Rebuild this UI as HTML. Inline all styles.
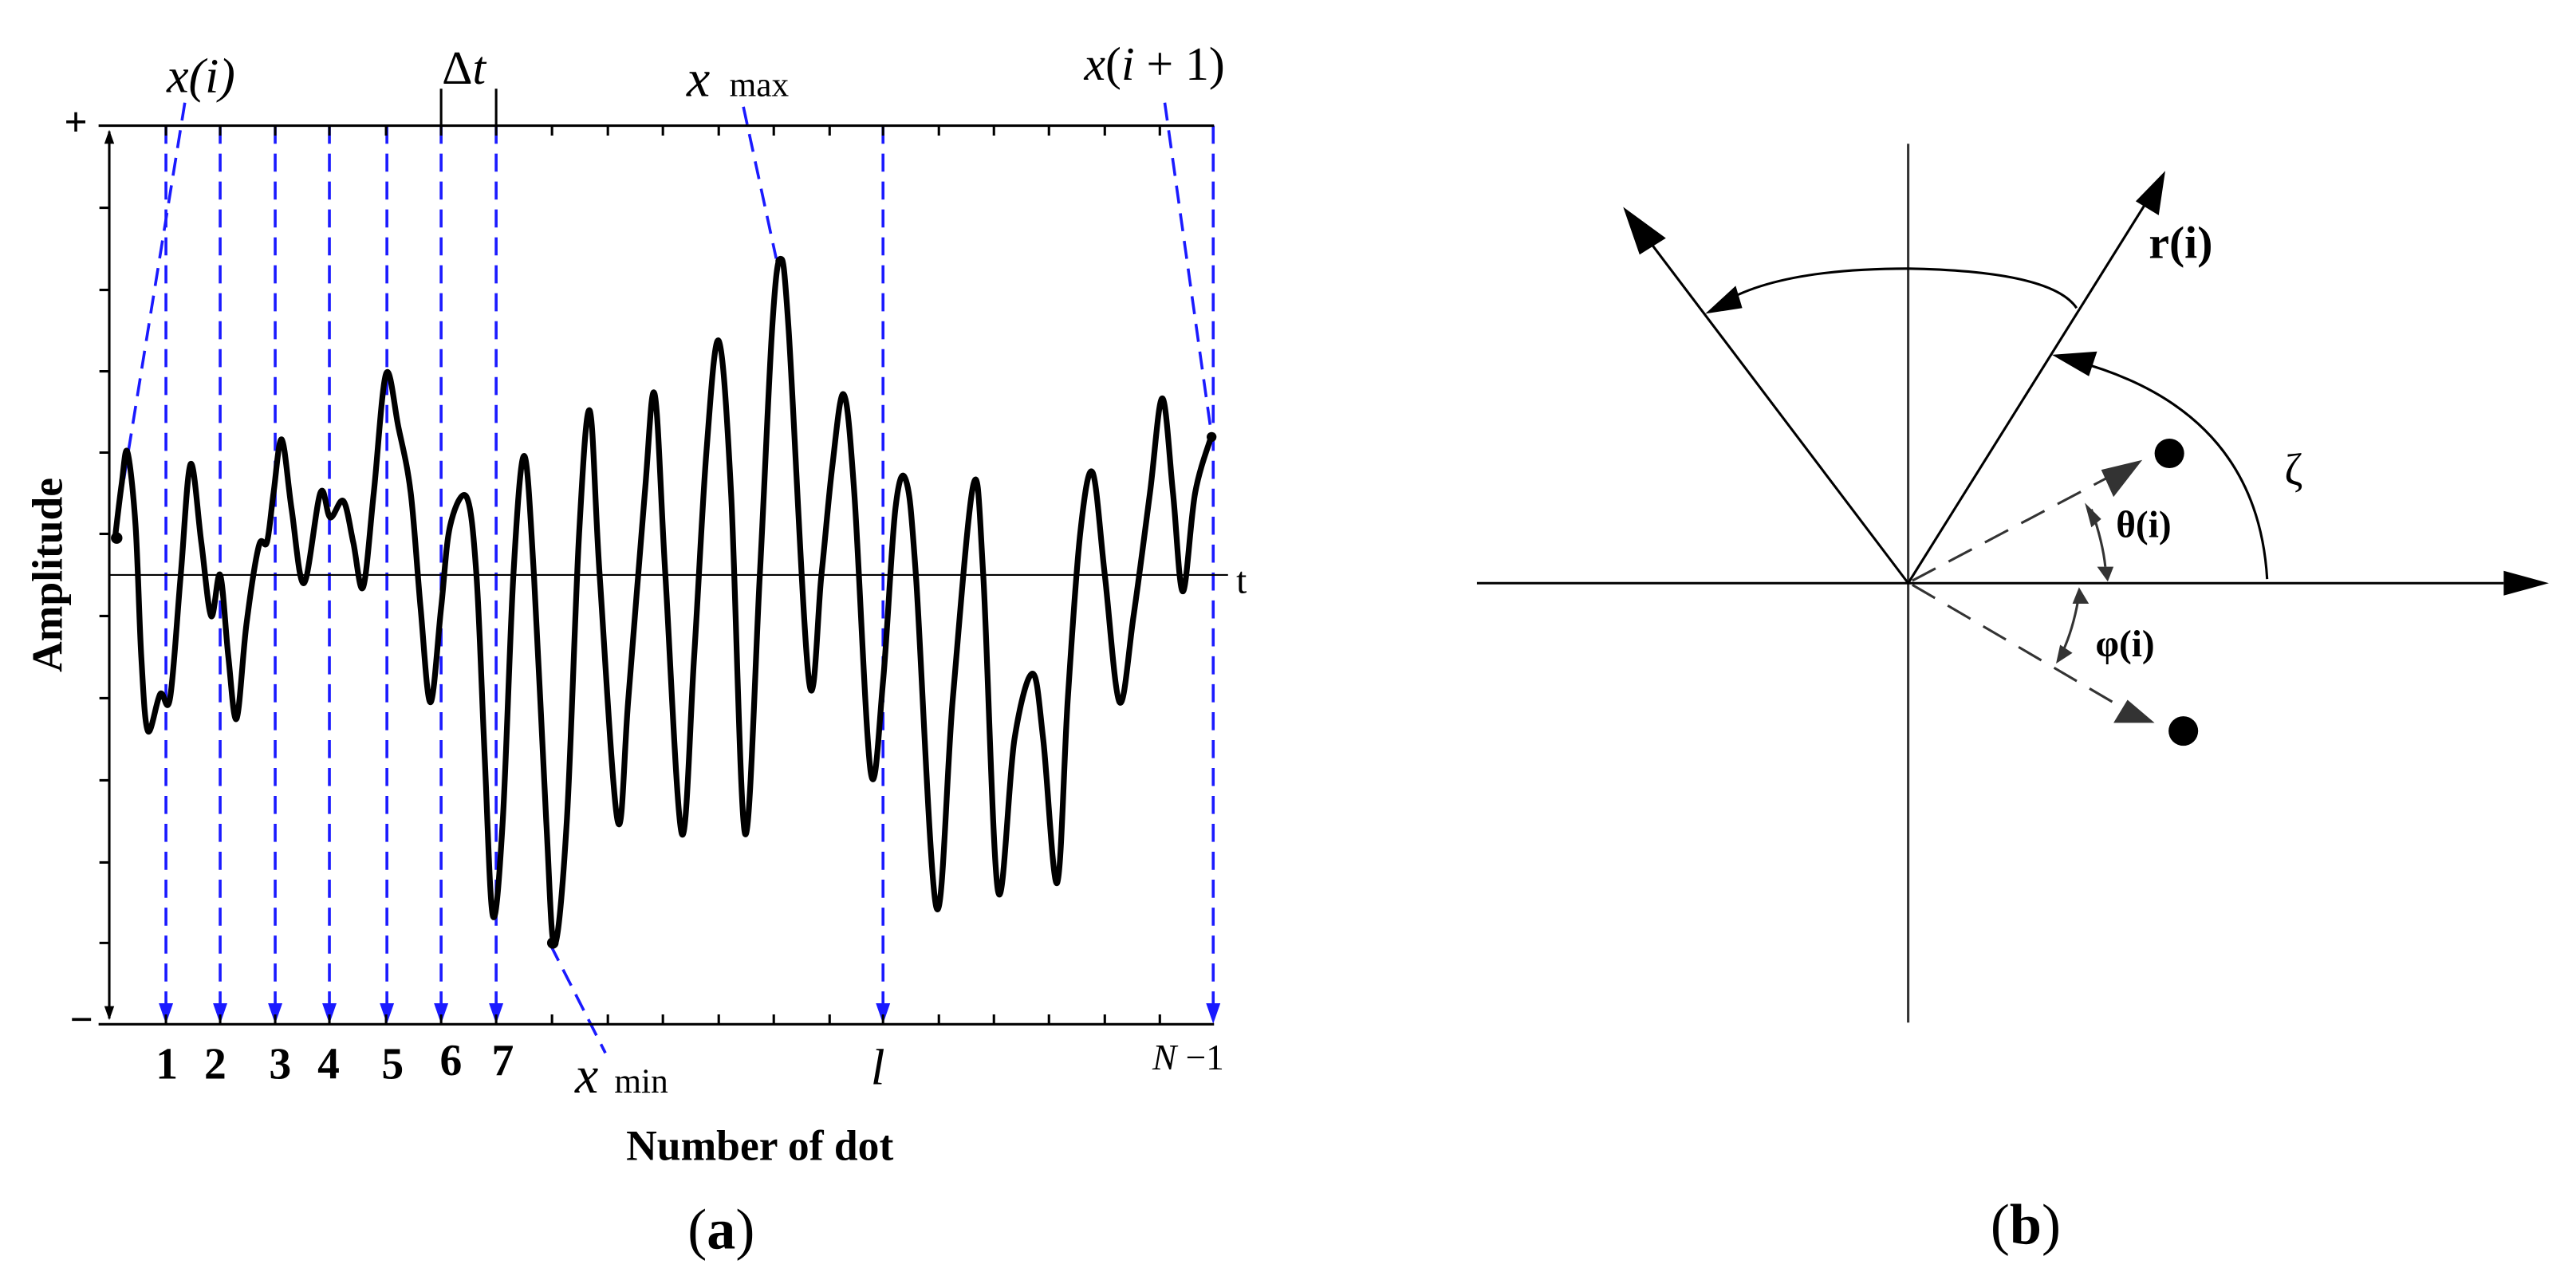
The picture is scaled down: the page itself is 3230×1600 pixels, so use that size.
<!DOCTYPE html>
<html><head><meta charset="utf-8">
<style>
html,body{margin:0;padding:0;background:#fff;}
body{width:3230px;height:1600px;position:relative;overflow:hidden;}
svg{position:absolute;top:0;}
.s{font-family:"Liberation Serif","DejaVu Serif",serif;}
</style></head><body>
<svg style="left:0" width="1615" height="1600" viewBox="0 0 1568 1553.5">
<defs>
<marker id="ba" markerWidth="10" markerHeight="10" refX="9" refY="5" orient="auto" markerUnits="userSpaceOnUse" viewBox="0 0 10 10"><path d="M0,0 L10,5 L0,10 z" fill="#1a1aff"/></marker>
</defs>
<g stroke="#1a1aff" stroke-width="3.5" stroke-dasharray="22,12" fill="none">
<line x1="202" y1="153" x2="202" y2="1222"/>
<line x1="268" y1="153" x2="268" y2="1222"/>
<line x1="335" y1="153" x2="335" y2="1222"/>
<line x1="401" y1="153" x2="401" y2="1222"/>
<line x1="471" y1="153" x2="471" y2="1222"/>
<line x1="537" y1="153" x2="537" y2="1222"/>
<line x1="604" y1="153" x2="604" y2="1222"/>
<line x1="1075" y1="153" x2="1075" y2="1222"/>
<line x1="1477" y1="153" x2="1477" y2="1222"/>
<line x1="225" y1="125" x2="140" y2="650"/>
<line x1="905" y1="130" x2="945" y2="315"/>
<line x1="1418" y1="125" x2="1475" y2="530"/>
<line x1="670" y1="1150" x2="737" y2="1282"/>
</g>
<g stroke="#1a1aff" fill="#1a1aff">
<path d="M194,1222 L210,1222 L202,1245 z"/><path d="M260,1222 L276,1222 L268,1245 z"/><path d="M327,1222 L343,1222 L335,1245 z"/><path d="M393,1222 L409,1222 L401,1245 z"/><path d="M463,1222 L479,1222 L471,1245 z"/><path d="M529,1222 L545,1222 L537,1245 z"/><path d="M596,1222 L612,1222 L604,1245 z"/><path d="M1067,1222 L1083,1222 L1075,1245 z"/><path d="M1469,1222 L1485,1222 L1477,1245 z"/>
</g>
<g stroke="#000" stroke-width="3" fill="none">
<line x1="120" y1="153" x2="1478" y2="153"/>
<line x1="120" y1="1247" x2="1478" y2="1247"/>
<line x1="133" y1="160" x2="133" y2="1240"/>
<line x1="133" y1="700" x2="1495" y2="700" stroke-width="2"/>
<line x1="537" y1="108" x2="537" y2="153"/><line x1="604" y1="108" x2="604" y2="153"/>
<path d="M202,153v12M268,153v12M335,153v12M401,153v12M470,153v12M537,153v12M604,153v12M672,153v12M740,153v12M807,153v12M875,153v12M942,153v12M1010,153v12M1075,153v12M1143,153v12M1210,153v12M1277,153v12M1345,153v12M1412,153v12"/>
<path d="M202,1247v-12M268,1247v-12M335,1247v-12M401,1247v-12M470,1247v-12M537,1247v-12M604,1247v-12M672,1247v-12M740,1247v-12M807,1247v-12M875,1247v-12M942,1247v-12M1010,1247v-12M1075,1247v-12M1143,1247v-12M1210,1247v-12M1277,1247v-12M1345,1247v-12M1412,1247v-12"/>
<path d="M133,253h-12M133,353h-12M133,452h-12M133,551h-12M133,650h-12M133,750h-12M133,850h-12M133,950h-12M133,1050h-12M133,1148h-12"/>
</g>
<path d="M127,175 L133,158 L139,175 z M127,1225 L133,1242 L139,1225 z" fill="#000"/>
<polyline id="wave" fill="none" stroke="#000" stroke-width="7" stroke-linejoin="round" stroke-linecap="round" points="140,655 148,590 155,550 165,640 172,800 180,890 195,845 207,850 220,700 232,565 245,660 257,750 268,700 278,800 288,875 300,760 315,665 325,660 333,600 343,535 355,620 370,710 390,600 402,630 418,610 430,660 442,715 455,600 470,455 485,520 500,600 512,740 524,855 537,740 548,640 568,605 580,700 590,920 600,1115 612,1000 625,700 638,555 650,700 665,1000 675,1150 690,1000 705,650 718,500 730,700 752,1000 765,850 785,600 797,480 810,700 830,1015 845,800 860,550 875,415 890,600 907,1015 925,700 940,400 950,315 960,400 985,830 1000,700 1013,570 1027,480 1040,600 1060,940 1075,830 1090,620 1103,585 1115,700 1140,1105 1160,850 1185,590 1197,700 1215,1085 1235,900 1257,820 1270,900 1287,1075 1300,850 1315,650 1330,575 1345,700 1363,855 1380,750 1400,600 1415,485 1428,600 1440,720 1455,600 1475,530"/>
<path id="wavep" fill="none" stroke="#000" stroke-width="7" stroke-linejoin="round" stroke-linecap="round" d=""/>
<circle cx="142" cy="655" r="7"/><circle cx="950" cy="318" r="6"/><circle cx="673" cy="1148" r="7"/><circle cx="1475" cy="532" r="6"/>
<g class="s" fill="#000">
<text x="203" y="112" font-size="60" font-style="italic">x(i)</text>
<text x="538" y="102" font-size="58">Δ<tspan font-style="italic">t</tspan></text>
<text x="836" y="117" font-size="64" font-style="italic">x</text><text x="888" y="117" font-size="42">max</text>
<text x="1320" y="97" font-size="58"><tspan font-style="italic">x</tspan>(<tspan font-style="italic">i</tspan> + 1)</text>
<text x="78" y="165" font-size="50" font-weight="bold">+</text>
<text x="85" y="1258" font-size="50" font-weight="bold">−</text>
<text x="1505" y="722" font-size="46">t</text>
<g font-size="54" font-weight="bold" text-anchor="middle">
<text x="203" y="1313">1</text><text x="262" y="1313">2</text><text x="341" y="1313">3</text><text x="400" y="1313">4</text><text x="478" y="1313">5</text><text x="549" y="1309">6</text><text x="612" y="1309">7</text>
</g>
<text x="700" y="1330" font-size="64" font-style="italic">x</text><text x="748" y="1330" font-size="42">min</text>
<text x="1060" y="1320" font-size="62" font-style="italic">l</text>
<text x="1403" y="1302" font-size="44" font-style="italic">N<tspan font-style="normal"> −1</tspan></text>
<text x="925" y="1412" font-size="52" font-weight="bold" text-anchor="middle">Number of dot</text>
<text transform="translate(75,700) rotate(-90)" font-size="52" font-weight="bold" text-anchor="middle">Amplitude</text>
<text x="878" y="1520" font-size="70" text-anchor="middle">(<tspan font-weight="bold">a</tspan>)</text>
</g>
</svg>
<svg style="left:1615px" width="1615" height="1600" viewBox="0 0 1568 1553.5">
<g stroke="#000" fill="none">
<line x1="755" y1="175" x2="755" y2="1245" stroke="#333" stroke-width="3"/>
<line x1="230" y1="710" x2="1480" y2="710" stroke-width="3"/>
<line x1="755" y1="710" x2="428" y2="278" stroke-width="3"/>
<line x1="755" y1="710" x2="1052" y2="235" stroke-width="3"/>
<path d="M960,375 Q930,330 755,327 Q600,327 530,368" stroke-width="3"/>
<path d="M1192,705 Q1180,500 960,440" stroke-width="3"/>
<g stroke="#333" stroke-width="3" stroke-dasharray="32,18">
<line x1="760" y1="707" x2="1010" y2="575"/>
<line x1="760" y1="712" x2="1030" y2="870"/>
</g>
<path d="M978,620 Q992,660 995,690" stroke="#333" stroke-width="3"/>
<path d="M962,730 Q955,770 940,800" stroke="#333" stroke-width="3"/>
</g>
<g fill="#000">
<path d="M1480,695 L1535,710 L1480,725 z"/>
<path d="M408,252 L460,290 L428,310 z"/>
<path d="M1068,208 L1060,262 L1032,245 z"/>
<path d="M508,382 L545,348 L553,375 z"/>
<path d="M930,432 L985,428 L975,458 z"/>
<circle cx="1073" cy="552" r="18"/><circle cx="1090" cy="890" r="18"/>
</g>
<g fill="#333">
<path d="M1040,560 L990,572 L1005,605 z"/>
<path d="M1055,880 L1005,880 L1022,852 z"/>
<path d="M970,612 L990,632 L978,642 z"/>
<path d="M985,690 L1005,690 L998,708 z"/>
<path d="M963,715 L975,735 L955,735 z"/>
<path d="M935,808 L940,785 L955,795 z"/>
</g>
<g class="s" fill="#000" font-weight="bold">
<text x="1048" y="314" font-size="56">r(i)</text>
<text x="1008" y="654" font-size="46">θ(i)</text>
<text x="983" y="799" font-size="46">φ(i)</text>
<text x="1213" y="590" font-size="54" font-weight="normal">ζ</text>
<text x="898" y="1514" font-size="70" font-weight="normal" text-anchor="middle">(<tspan font-weight="bold">b</tspan>)</text>
</g>
</svg>
<script>
(function(){
var pl=document.getElementById('wave');
var pts=pl.getAttribute('points').trim().split(/\s+/).map(function(s){var a=s.split(',');return [+a[0],+a[1]];});
var d='M'+pts[0][0]+','+pts[0][1];
for(var i=0;i<pts.length-1;i++){
var p0=pts[i-1]||pts[i],p1=pts[i],p2=pts[i+1],p3=pts[i+2]||p2;
var c1x=p1[0]+(p2[0]-p0[0])/6,c1y=p1[1]+(p2[1]-p0[1])/6;
var c2x=p2[0]-(p3[0]-p1[0])/6,c2y=p2[1]-(p3[1]-p1[1])/6;
d+=' C'+c1x.toFixed(1)+','+c1y.toFixed(1)+' '+c2x.toFixed(1)+','+c2y.toFixed(1)+' '+p2[0]+','+p2[1];
}
document.getElementById('wavep').setAttribute('d',d);
pl.setAttribute('stroke','none');
})();
</script>
</body></html>
